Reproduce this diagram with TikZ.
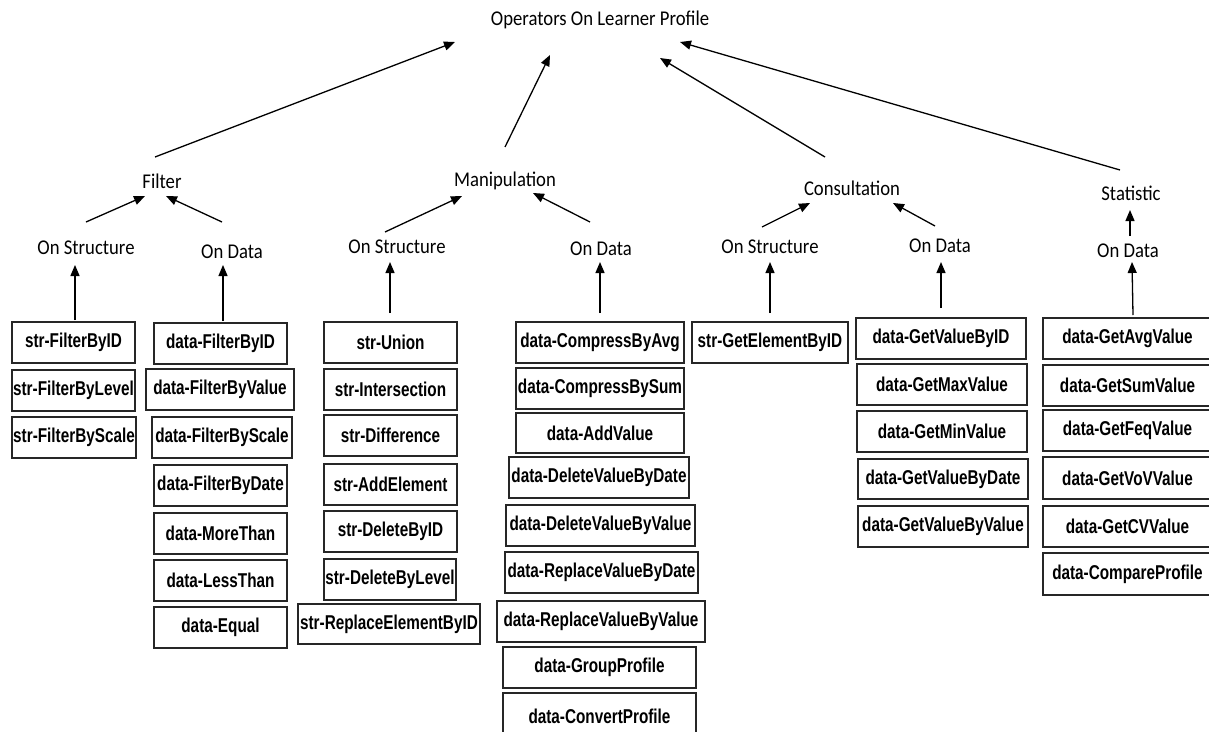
\documentclass[tikz,border=0pt]{standalone}
\usepackage{fontspec}
\setmainfont{Carlito}
\newfontfamily\lblfont{Carlito}[FakeStretch=0.89]
\newfontfamily\boxfont{Liberation Sans}[FakeStretch=0.765]
\usetikzlibrary{arrows.meta,calc}
\tikzset{
  lbl/.style={inner sep=0pt, outer sep=0pt, font=\lblfont\fontsize{21}{24}\selectfont},
  bx/.style={draw=black!85, line width=1.3pt, inner sep=0pt, outer sep=0pt,
    font=\boxfont\bfseries\fontsize{20}{23}\selectfont},
  arr/.style={line width=1.3pt, -{Triangle[length=11pt,width=9pt]}}
}
\newcommand\bx[6]{\node[bx, minimum width={(#4-#2)*1pt}, minimum height={(#5-#3)*1pt}] (#1) at ({(#2+#4)/2},{(#3+#5)/2}) {#6};}
\begin{document}
\begin{tikzpicture}[x=1pt,y=-1pt]
\useasboundingbox (0,0) rectangle (1209,731);
% labels
\node[lbl] (title) at (600,20) {Operators On Learner Profile};
\node[lbl] (filter) at (162,181) {Filter};
\node[lbl] (manip) at (505,181) {Manipulation};
\node[lbl] (consult) at (852,188) {Consultation};
\node[lbl] (stat) at (1131,193) {Statistic};
\node[lbl] (fOS) at (86,248) {On Structure};
\node[lbl] (fOD) at (232,252) {On Data};
\node[lbl] (mOS) at (397,247) {On Structure};
\node[lbl] (mOD) at (601,249) {On Data};
\node[lbl] (cOS) at (770,247) {On Structure};
\node[lbl] (cOD) at (940,246) {On Data};
\node[lbl] (sOD) at (1128,251) {On Data};
% boxes: Filter / structure
\bx{fsid}{12}{322}{135}{363}{str-FilterByID}
\bx{fslv}{12}{370}{135}{411}{str-FilterByLevel}
\bx{fssc}{12}{417}{136}{458}{str-FilterByScale}
% Filter / data
\bx{fdid}{154}{323}{287}{364}{data-FilterByID}
\bx{fdval}{146}{369}{294}{410}{data-FilterByValue}
\bx{fdsc}{152}{417}{292}{458}{data-FilterByScale}
\bx{fddt}{154}{465}{287}{506}{data-FilterByDate}
\bx{fdmt}{154}{513}{287}{554}{data-MoreThan}
\bx{fdlt}{154}{560}{287}{601}{data-LessThan}
\bx{fdeq}{154}{607}{287}{648}{data-Equal}
% Manipulation / structure
\bx{msun}{324}{322}{457}{363}{str-Union}
\bx{msin}{324}{369}{457}{410}{str-Intersection}
\bx{msdf}{324}{415}{457}{456}{str-Difference}
\bx{msae}{324}{464}{457}{505}{str-AddElement}
\bx{msdi}{324}{511}{457}{552}{str-DeleteByID}
\bx{msdl}{324}{559}{456}{600}{str-DeleteByLevel}
\bx{msre}{298}{604}{480}{644}{str-ReplaceElementByID}
% Manipulation / data
\bx{mdca}{516}{322}{684}{363}{data-CompressByAvg}
\bx{mdcs}{516}{368}{684}{409}{data-CompressBySum}
\bx{mdav}{516}{413}{684}{453}{data-AddValue}
\bx{mddd}{509}{457}{689}{498}{data-DeleteValueByDate}
\bx{mddv}{506}{505}{695}{546}{data-DeleteValueByValue}
\bx{mdrd}{505}{552}{698}{593}{data-ReplaceValueByDate}
\bx{mdrv}{497}{601}{705}{642}{data-ReplaceValueByValue}
\bx{mdgp}{503}{647}{696}{688}{data-GroupProfile}
\bx{mdcp}{503}{693}{696}{740}{data-ConvertProfile}
% Consultation
\bx{csid}{692}{322}{848}{363}{str-GetElementByID}
\bx{cdid}{856}{318}{1026}{359}{data-GetValueByID}
\bx{cdmx}{857}{364}{1027}{405}{data-GetMaxValue}
\bx{cdmn}{857}{411}{1027}{452}{data-GetMinValue}
\bx{cddt}{858}{459}{1028}{499}{data-GetValueByDate}
\bx{cdvv}{858}{506}{1028}{547}{data-GetValueByValue}
% Statistic
\bx{savg}{1043}{318}{1212}{359}{data-GetAvgValue}
\bx{ssum}{1043}{365}{1212}{406}{data-GetSumValue}
\bx{sfeq}{1043}{410}{1212}{451}{data-GetFeqValue}
\bx{svov}{1043}{457}{1212}{499}{data-GetVoVValue}
\bx{scv}{1043}{506}{1212}{547}{data-GetCVValue}
\bx{scmp}{1043}{553}{1212}{595}{data-CompareProfile}
% arrows to title
\draw[arr] ($(filter)+(-7,-24)$) -- ($(title)+(-145,22)$);
\draw[arr] ($(manip)+(0,-34)$) -- ($(title)+(-50,35)$);
\draw[arr] ($(consult)+(-27,-31)$) -- ($(title)+(60,38)$);
\draw[arr] ($(stat)+(-11,-23)$) -- ($(title)+(80,22)$);
% level 2 to level 1
\draw[arr] ($(fOS)+(0,-26)$) -- ($(filter)+(-17,15)$);
\draw[arr] ($(fOD)+(-10,-30)$) -- ($(filter)+(4,15)$);
\draw[arr] ($(mOS)+(-12,-15)$) -- ($(manip)+(-43,15)$);
\draw[arr] ($(mOD)+(-11,-27)$) -- ($(manip)+(28,12)$);
\draw[arr] ($(cOS)+(-8,-20)$) -- ($(consult)+(-42,15)$);
\draw[arr] ($(cOD)+(-5,-20)$) -- ($(consult)+(41,15)$);
\draw[arr] ($(sOD)+(2,-15)$) -- ($(stat)+(-1,17)$);
% boxes to level 2
\draw[arr] ($(fsid.north)+(1.5,-2)$) -- ($(fOS)+(-11,17)$);
\draw[arr] ($(fdid.north)+(2.5,-2)$) -- ($(fOD)+(-9,13)$);
\draw[arr] ($(msun.north)+(-0.5,-9)$) -- ($(mOS)+(-7,15)$);
\draw[arr] ($(mdca.north)+(0,-9)$) -- ($(mOD)+(-1,13)$);
\draw[arr] ($(csid.north)+(0,-9)$) -- ($(cOS)+(0,15)$);
\draw[arr] ($(cdid.north)+(0,-10)$) -- ($(cOD)+(1,16)$);
\draw[arr] ($(savg.north)+(5.5,-3)$) -- ($(sOD)+(4,11)$);
\end{tikzpicture}
\end{document}
